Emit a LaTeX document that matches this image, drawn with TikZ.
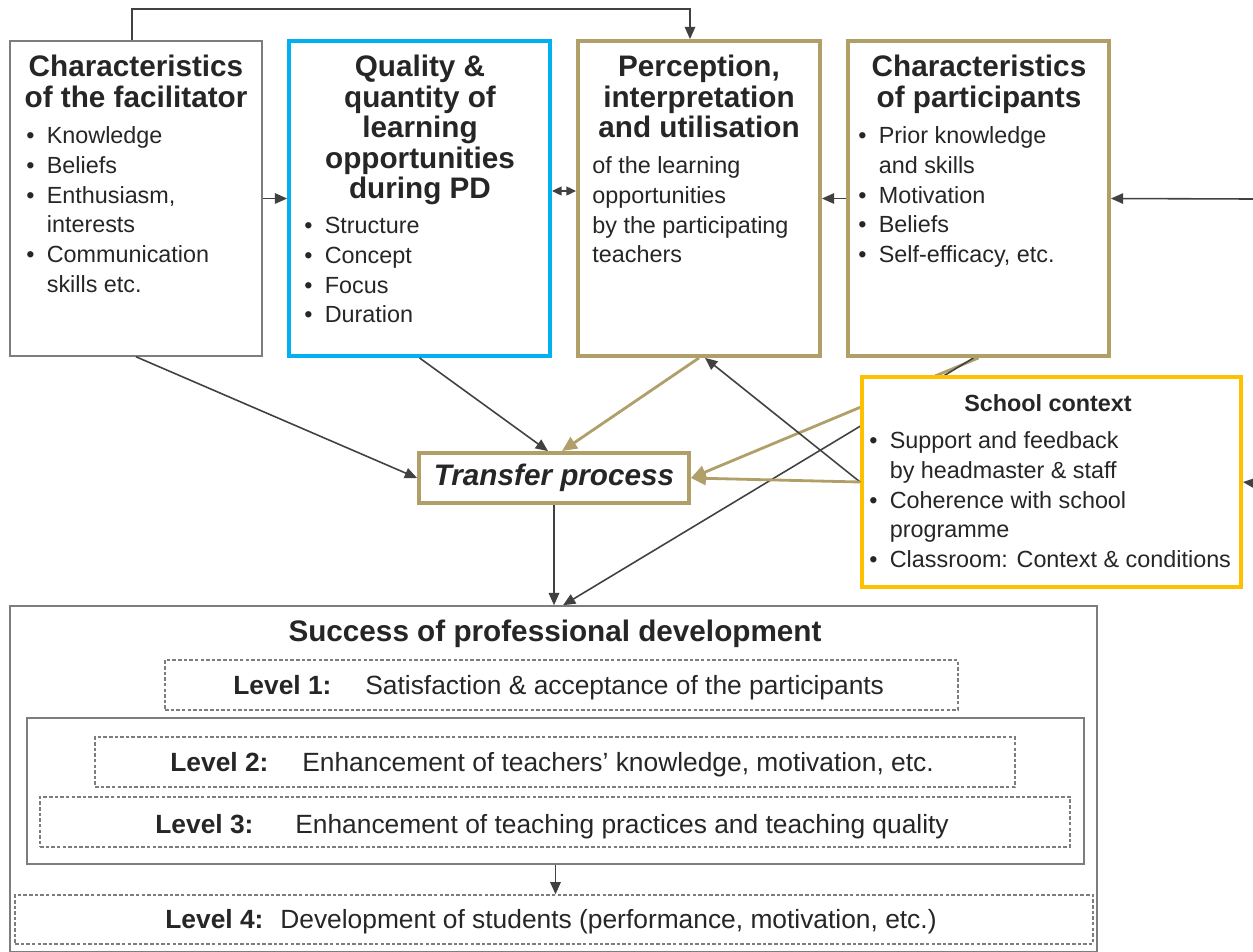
\documentclass[tikz,border=0pt]{standalone}
\usepackage{fontspec}
\setmainfont{Liberation Sans}
\usetikzlibrary{arrows.meta,backgrounds}

\definecolor{tanbox}{RGB}{176,159,105}
\definecolor{cyanbox}{RGB}{0,176,240}
\definecolor{goldbox}{RGB}{255,192,0}
\definecolor{linegray}{RGB}{65,65,65}
\definecolor{boxgray}{RGB}{125,125,125}
\definecolor{txtgray}{RGB}{38,38,38}

\newcommand{\TitleFont}{\fontsize{16.9}{17}\selectfont\bfseries}
\newcommand{\BodyFont}{\fontsize{13.3}{17}\selectfont}
\newcommand{\LevelFont}{\fontsize{15}{17}\selectfont}

\begin{document}
\begin{tikzpicture}[x=0.02cm, y=-0.02cm]
\tikzset{
  BoxStyle/.style = {draw=boxgray, line width=0.9pt, fill=white, inner sep=0pt},
  ThickBox/.style = {BoxStyle, line width=2.2pt},
  LevelBox/.style = {draw=boxgray, line width=0.8pt, dash pattern=on 2pt off 1.2pt,
                     minimum height=1cm},
  TextStyle/.style = {inner sep=0pt, text=txtgray},
  EdgeStyle/.style = {draw=linegray, line width=0.9pt, -{Triangle[length=7pt,width=6pt]}},
  TanEdge/.style = {draw=tanbox, line width=1.6pt, -{Triangle[length=8.5pt,width=7.5pt]}},
}
\useasboundingbox (0,0) rectangle (1253,951);

  % top row
  \node[BoxStyle, minimum width=5.04cm, minimum height=6.3cm] (fac) at (136,198.5) {};
  \node[ThickBox, draw=cyanbox, minimum width=5.22cm, minimum height=6.3cm] (qual) at (419.5,198.5) {};
  \node[ThickBox, draw=tanbox, minimum width=4.84cm, minimum height=6.3cm] (perc) at (699,198.5) {};
  \node[ThickBox, draw=tanbox, minimum width=5.22cm, minimum height=6.3cm] (part) at (978.5,198.5) {};

  \node[TextStyle, anchor=north, font=\TitleFont] (facT) at (136,55)
    {\begin{tabular}{@{}c@{}}Characteristics\\of the facilitator\end{tabular}};
  \node[TextStyle, anchor=north west, font=\BodyFont] (facL) at (26,122)
    {\begin{tabular}{@{}l@{\hspace{7pt}}l@{}}
      \textbullet & Knowledge\\ \textbullet & Beliefs\\ \textbullet & Enthusiasm,\\ & interests\\
      \textbullet & Communication\\ & skills etc.\end{tabular}};

  \node[TextStyle, anchor=north, font=\TitleFont] (qualT) at (420,55)
    {\begin{tabular}{@{}c@{}}Quality \&\\quantity of\\learning\\opportunities\\during PD\end{tabular}};
  \node[TextStyle, anchor=north west, font=\BodyFont] (qualL) at (304,212)
    {\begin{tabular}{@{}l@{\hspace{7pt}}l@{}}
      \textbullet & Structure\\ \textbullet & Concept\\ \textbullet & Focus\\ \textbullet & Duration\end{tabular}};

  \node[TextStyle, anchor=north, font=\TitleFont] (percT) at (699,55)
    {\begin{tabular}{@{}c@{}}Perception,\\interpretation\\and utilisation\end{tabular}};
  \node[TextStyle, anchor=north west, font=\BodyFont] (percL) at (592,152)
    {\begin{tabular}{@{}l@{}}of the learning\\opportunities\\by the participating\\teachers\end{tabular}};

  \node[TextStyle, anchor=north, font=\TitleFont] (partT) at (979,55)
    {\begin{tabular}{@{}c@{}}Characteristics\\of participants\end{tabular}};
  \node[TextStyle, anchor=north west, font=\BodyFont] (partL) at (858,122)
    {\begin{tabular}{@{}l@{\hspace{7pt}}l@{}}
      \textbullet & Prior knowledge\\ & and skills\\ \textbullet & Motivation\\ \textbullet & Beliefs\\
      \textbullet & Self-efficacy, etc.\end{tabular}};

  % school context and transfer
  \node[ThickBox, draw=goldbox, minimum width=7.58cm, minimum height=4.2cm] (school) at (1051.5,482) {};
  \node[TextStyle, anchor=base, font=\BodyFont\bfseries] (schoolT) at (1048,411) {School context};
  \node[TextStyle, anchor=north west, font=\BodyFont] (schoolL) at (869,427)
    {\begin{tabular}{@{}l@{\hspace{7pt}}l@{}}
      \textbullet & Support and feedback\\ & by headmaster \& staff\\
      \textbullet & Coherence with school\\ & programme\\
      \textbullet & Classroom: Context \& conditions\end{tabular}};

  \node[ThickBox, draw=tanbox, minimum width=5.4cm, minimum height=1cm,
        font=\TitleFont\itshape, text=txtgray] (trans) at (554,478) {Transfer process};

  % success of PD
  \node[BoxStyle, minimum width=21.74cm, minimum height=6.92cm] (succ) at (553.5,779) {};
  \node[TextStyle, anchor=base, font=\TitleFont] (succT) at (555,641) {Success of professional development};
  \node[LevelBox, minimum width=15.86cm] (lev1) at (561.5,685) {};
  \node[BoxStyle, minimum width=21.14cm, minimum height=2.92cm] (inner) at (555.5,791) {};
  \node[LevelBox, minimum width=18.4cm] (lev2) at (555,762) {};
  \node[LevelBox, minimum width=20.6cm] (lev3) at (555,822) {};
  \node[LevelBox, minimum width=21.56cm, minimum height=0.98cm] (lev4) at (554,919.5) {};

  \node[TextStyle, anchor=base west, font=\LevelFont\bfseries] (lev1L) at (233,694) {Level 1:};
  \node[TextStyle, anchor=base west, font=\LevelFont] (lev1T) at (365,694)
    {Satisfaction \& acceptance of the participants};
  \node[TextStyle, anchor=base west, font=\LevelFont\bfseries] (lev2L) at (170,771) {Level 2:};
  \node[TextStyle, anchor=base west, font=\LevelFont] (lev2T) at (302,771)
    {Enhancement of teachers’ knowledge, motivation, etc.};
  \node[TextStyle, anchor=base west, font=\LevelFont\bfseries] (lev3L) at (155,833) {Level 3:};
  \node[TextStyle, anchor=base west, font=\LevelFont] (lev3T) at (295,833)
    {Enhancement of teaching practices and teaching quality};
  \node[TextStyle, anchor=base west, font=\LevelFont\bfseries] (lev4L) at (165,928) {Level 4:};
  \node[TextStyle, anchor=base west, font=\LevelFont] (lev4T) at (280,928)
    {Development of students (performance, motivation, etc.)};

  \coordinate (rinA) at (1253,199);
  \coordinate (rinB) at (1253,483);

  \draw[EdgeStyle] ([xshift=-0.08cm]fac.north) -- ++(0,-31) -| ([xshift=-0.18cm]perc.north);
  \draw[EdgeStyle] (fac.east) -- (qual.west);
  \draw[EdgeStyle, {Triangle[length=5.5pt,width=5pt]}-{Triangle[length=5.5pt,width=5pt]}]
    ([yshift=0.15cm]qual.east) -- ([yshift=0.15cm]perc.west);
  \draw[EdgeStyle] (part.west) -- (perc.east);
  \draw[EdgeStyle] (rinA) -- (part.east);
  \draw[EdgeStyle] (rinB) -- (school.east);

  \draw[EdgeStyle] (fac.south) -- (trans.west);
  \draw[EdgeStyle] (qual.south) -- ([xshift=-0.12cm]trans.north);
  \draw[TanEdge] (perc.south) -- ([xshift=0.16cm]trans.north);
  \draw[EdgeStyle] (school.west) -- ([xshift=0.12cm]perc.south);
  \draw[TanEdge] (school.west) -- (trans.east);
  \begin{pgfonlayer}{background}
    \draw[TanEdge] (part.south) -- (trans.east);
    \draw[EdgeStyle] ([xshift=-0.1cm]part.south) -- ([xshift=0.19cm]succ.north);
  \end{pgfonlayer}
  \draw[EdgeStyle] (trans.south) -- (trans.south |- succ.north);
  \draw[EdgeStyle] (inner.south) -- (inner.south |- lev4.north);

\end{tikzpicture}
\end{document}
